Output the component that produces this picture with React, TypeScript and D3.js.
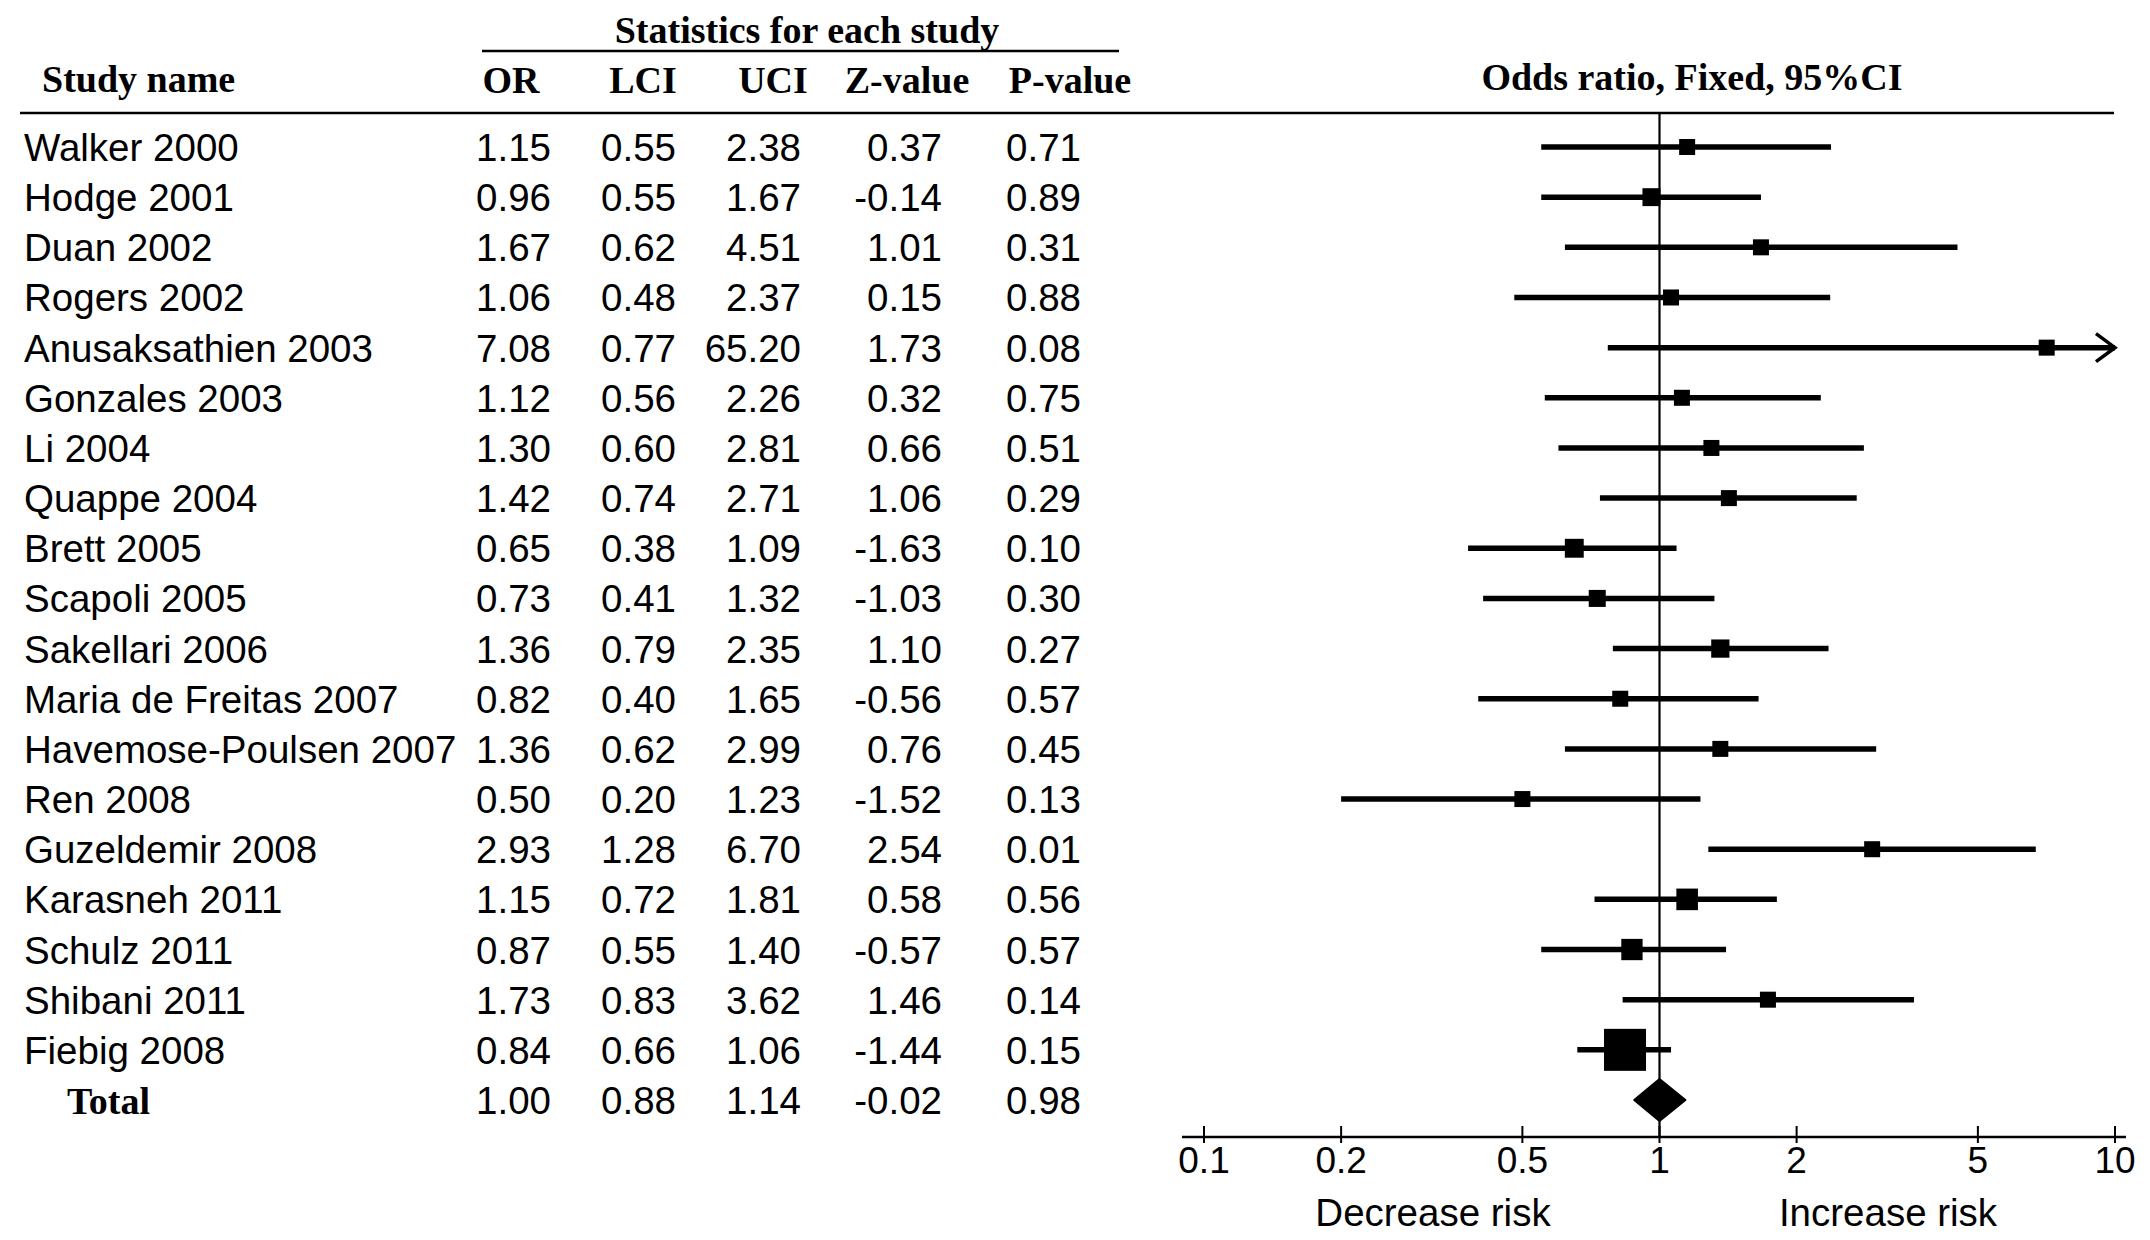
import React from "react";
import * as d3 from "d3";

const studies = [
  "Walker 2000", "Hodge 2001", "Duan 2002", "Rogers 2002", "Anusaksathien 2003",
  "Gonzales 2003", "Li 2004", "Quappe 2004", "Brett 2005", "Scapoli 2005",
  "Sakellari 2006", "Maria de Freitas 2007", "Havemose-Poulsen 2007", "Ren 2008",
  "Guzeldemir 2008", "Karasneh 2011", "Schulz 2011", "Shibani 2011", "Fiebig 2008",
];
const orValues = [1.15, 0.96, 1.67, 1.06, 7.08, 1.12, 1.30, 1.42, 0.65, 0.73, 1.36, 0.82, 1.36, 0.50, 2.93, 1.15, 0.87, 1.73, 0.84];
const lciValues = [0.55, 0.55, 0.62, 0.48, 0.77, 0.56, 0.60, 0.74, 0.38, 0.41, 0.79, 0.40, 0.62, 0.20, 1.28, 0.72, 0.55, 0.83, 0.66];
const uciValues = [2.38, 1.67, 4.51, 2.37, 65.20, 2.26, 2.81, 2.71, 1.09, 1.32, 2.35, 1.65, 2.99, 1.23, 6.70, 1.81, 1.40, 3.62, 1.06];
const zValues = [0.37, -0.14, 1.01, 0.15, 1.73, 0.32, 0.66, 1.06, -1.63, -1.03, 1.10, -0.56, 0.76, -1.52, 2.54, 0.58, -0.57, 1.46, -1.44];
const pValues = [0.71, 0.89, 0.31, 0.88, 0.08, 0.75, 0.51, 0.29, 0.10, 0.30, 0.27, 0.57, 0.45, 0.13, 0.01, 0.56, 0.57, 0.14, 0.15];

const totalLabel = "Total";
const totalStats = { or: 1.00, lci: 0.88, uci: 1.14, z: -0.02, p: 0.98 };

const axisTicks = [0.1, 0.2, 0.5, 1, 2, 5, 10];
const columnHeaders = ["OR", "LCI", "UCI", "Z-value", "P-value"];

const W = 2150;
const H = 1240;

const SANS = "'Liberation Sans', Arial, Helvetica, sans-serif";
const SERIF = "'Liberation Serif', 'Times New Roman', serif";

export default function App() {
  const x = d3.scaleLog().domain([0.1, 10]).range([1204, 2115]).clamp(true);
  const nRows = studies.length + 1;
  const y = d3.scaleLinear().domain([0, nRows - 1]).range([147, 1100]);

  const colRight = [551, 676, 801, 942, 1081];
  const colHeadCenter = [511, 643, 773, 907, 1070];

  const bodySize = 38.5;
  const headSize = 38;
  const baseOff = 14;

  const axisY = 1137;
  const topLineY = 113;

  const fmt = (v: number) => v.toFixed(2);

  const rows = studies.map((s, i) => ({
    name: s,
    vals: [orValues[i], lciValues[i], uciValues[i], zValues[i], pValues[i]],
    or: orValues[i],
    lci: lciValues[i],
    uci: uciValues[i],
  }));

  const boxSide = (l: number, u: number) =>
    Math.max(16, 19.9 / (Math.log(u) - Math.log(l)));

  const totY = y(nRows - 1);
  const diamondH = 21;
  const diamond = [
    [x(totalStats.lci), totY],
    [x(totalStats.or), totY - diamondH],
    [x(totalStats.uci), totY],
    [x(totalStats.or), totY + diamondH],
  ];

  return (
    <svg
      width={W}
      height={H}
      viewBox={`0 0 ${W} ${H}`}
      style={{ position: "absolute", left: 0, top: 0, background: "#fff" }}
    >
      <rect x={0} y={0} width={W} height={H} fill="#fff" />

      {/* Headers */}
      <text x={807} y={43} fontFamily={SERIF} fontWeight="bold" fontSize={headSize} textAnchor="middle" fill="#000">
        Statistics for each study
      </text>
      <line x1={482} x2={1119} y1={51} y2={51} stroke="#000" strokeWidth={2.5} />
      <text x={42} y={92} fontFamily={SERIF} fontWeight="bold" fontSize={headSize} fill="#000">
        Study name
      </text>
      {columnHeaders.map((h, j) => (
        <text key={h} x={colHeadCenter[j]} y={93} fontFamily={SERIF} fontWeight="bold" fontSize={headSize} textAnchor="middle" fill="#000">
          {h}
        </text>
      ))}
      <text x={1692} y={90} fontFamily={SERIF} fontWeight="bold" fontSize={headSize} textAnchor="middle" fill="#000">
        Odds ratio, Fixed, 95%CI
      </text>
      <line x1={20} x2={2114} y1={topLineY} y2={topLineY} stroke="#000" strokeWidth={2.5} />

      {/* Table rows */}
      {rows.map((r, i) => (
        <g key={r.name}>
          <text x={24} y={y(i) + baseOff} fontFamily={SANS} fontSize={bodySize} fill="#000">
            {r.name}
          </text>
          {r.vals.map((v, j) => (
            <text key={j} x={colRight[j]} y={y(i) + baseOff} fontFamily={SANS} fontSize={bodySize} textAnchor="end" fill="#000">
              {fmt(v)}
            </text>
          ))}
        </g>
      ))}
      <text x={67} y={totY + baseOff} fontFamily={SERIF} fontWeight="bold" fontSize={headSize} fill="#000">
        {totalLabel}
      </text>
      {[totalStats.or, totalStats.lci, totalStats.uci, totalStats.z, totalStats.p].map((v, j) => (
        <text key={j} x={colRight[j]} y={totY + baseOff} fontFamily={SANS} fontSize={bodySize} textAnchor="end" fill="#000">
          {fmt(v)}
        </text>
      ))}

      {/* Reference line */}
      <line x1={x(1)} x2={x(1)} y1={topLineY} y2={axisY} stroke="#000" strokeWidth={2.2} />

      {/* Forest marks */}
      {rows.map((r, i) => {
        const cy = y(i);
        const s = boxSide(r.lci, r.uci);
        const x1 = x(r.lci);
        const x2 = x(r.uci);
        const arrow = r.uci > 10;
        return (
          <g key={"m" + r.name}>
            <line x1={x1} x2={x2} y1={cy} y2={cy} stroke="#000" strokeWidth={5.5} />
            {arrow && (
              <path
                d={`M${x2 - 19},${cy - 14} L${x2},${cy} L${x2 - 19},${cy + 14}`}
                fill="none"
                stroke="#000"
                strokeWidth={3.5}
              />
            )}
            <rect x={x(r.or) - s / 2} y={cy - s / 2} width={s} height={s} fill="#000" />
          </g>
        );
      })}
      <polygon points={diamond.map((p) => p.join(",")).join(" ")} fill="#000" stroke="#000" strokeWidth={2} strokeLinejoin="round" />

      {/* Axis */}
      <line x1={1182} x2={2126} y1={axisY} y2={axisY} stroke="#000" strokeWidth={2.5} />
      {axisTicks.map((t) => (
        <g key={t}>
          <line x1={x(t)} x2={x(t)} y1={axisY - 11} y2={axisY + 6} stroke="#000" strokeWidth={2} />
          <text x={x(t)} y={1173} fontFamily={SANS} fontSize={37} textAnchor="middle" fill="#000">
            {String(t)}
          </text>
        </g>
      ))}
      <text x={1433} y={1226} fontFamily={SANS} fontSize={bodySize} textAnchor="middle" fill="#000">
        Decrease risk
      </text>
      <text x={1888} y={1226} fontFamily={SANS} fontSize={bodySize} textAnchor="middle" fill="#000">
        Increase risk
      </text>
    </svg>
  );
}
